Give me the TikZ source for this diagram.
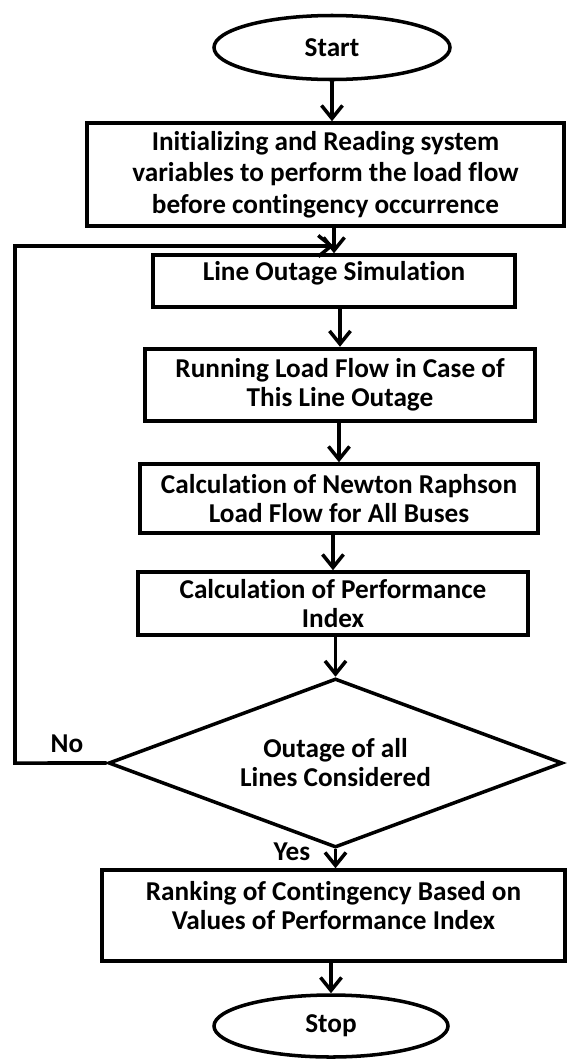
\documentclass[tikz,border=0pt]{standalone}
\usepackage{fontspec}
\setmainfont{Carlito}[Ligatures=NoCommon]
\usetikzlibrary{shapes.geometric,arrows.meta}

\begin{document}
\begin{tikzpicture}[scale=0.2]
    \tikzstyle{every node}+=[font=\bfseries\fontsize{15.5}{16.5}\selectfont, align=center, line width=2pt]
    \tikzstyle{terminal}=[draw, ellipse, inner sep=0pt]
    \tikzstyle{stepbox}=[draw, rectangle, inner sep=0pt]
    \tikzstyle{check}=[draw, diamond, shape aspect=2.7, inner sep=0pt]
    \tikzstyle{flow}=[line width=2pt, -{Straight Barb[length=0.26cm,width=0.42cm]}]
    \useasboundingbox (0,0) rectangle (56.8,-105.9);
    \node [terminal, minimum width=4.72cm, minimum height=1.28cm] (start) at (33.2,-4.75) {Start};
    \node [stepbox, minimum width=9.54cm, minimum height=2.06cm, font=\bfseries\fontsize{15.5}{18}\selectfont] (init) at (32.55,-17.45)
        {Initializing and Reading system\\variables to perform the load flow\\before contingency occurrence};
    \node [stepbox, minimum width=7.24cm, minimum height=1.04cm, text depth=0.42cm] (outage) at (33.4,-28.1)
        {Line Outage Simulation};
    \node [stepbox, minimum width=7.8cm, minimum height=1.44cm] (running) at (34,-38.5)
        {Running Load Flow in Case of\\This Line Outage};
    \node [stepbox, minimum width=7.96cm, minimum height=1.38cm] (newton) at (33.9,-49.85)
        {Calculation of Newton Raphson\\Load Flow for All Buses};
    \node [stepbox, minimum width=7.8cm, minimum height=1.26cm] (index) at (33.3,-60.35)
        {Calculation of Performance\\Index};
    \node [check, minimum width=9.08cm, minimum height=3.38cm] (done) at (33.55,-76.3)
        {Outage of all\\Lines Considered};
    \node [stepbox, minimum width=9.26cm, minimum height=1.82cm, text depth=0.42cm] (ranking) at (33.35,-91.55)
        {Ranking of Contingency Based on\\Values of Performance Index};
    \node [terminal, minimum width=4.68cm, minimum height=1.24cm] (stop) at (33.1,-102.6) {Stop};
    \coordinate (merge) at (33.4,-24.6);
    \draw [flow] (start.south) -- (start.south |- init.north);
    \draw [flow] (init.south -| outage.north) -- (outage.north);
    \draw [flow] (outage.south -| running.north) -- ++(0,-3.8);
    \draw [flow] (running.south -| newton.north) -- (newton.north);
    \draw [flow] (newton.south -| index.north) -- (index.north);
    \draw [flow] (index.south -| done.north) -- (done.north);
    \draw [flow] (done.south) -- (done.south |- ranking.north);
    \draw [flow] (ranking.south -| stop.north) -- (stop.north);
    \draw [flow] (done.west) -- (1.5,-76.3) |- (merge);
    \node (no) at (6.7,-74.4) {No};
    \node (yes) at (29.2,-85.2) {Yes};
\end{tikzpicture}
\end{document}
